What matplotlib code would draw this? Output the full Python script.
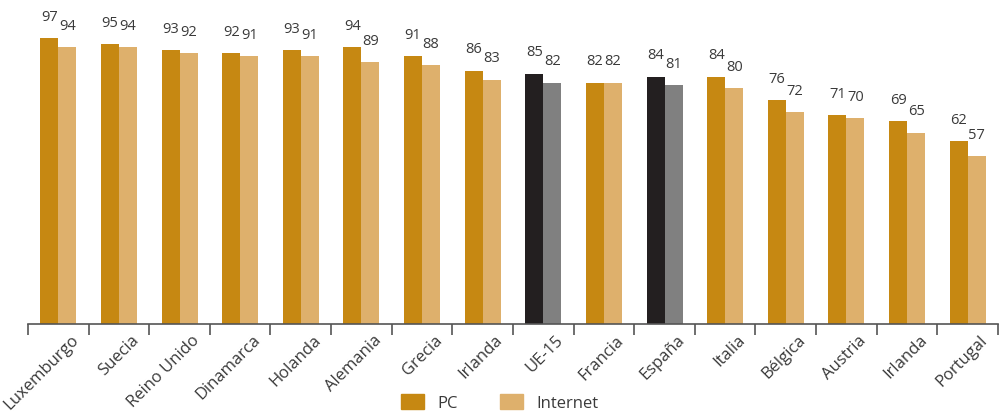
import matplotlib
matplotlib.use("Agg")
import matplotlib.pyplot as plt
import matplotlib.transforms as mtransforms
import numpy as np
from matplotlib.patches import Patch

plt.rcParams["font.family"] = ["Open Sans", "DejaVu Sans"]

countries = ["Luxemburgo", "Suecia", "Reino Unido", "Dinamarca", "Holanda",
             "Alemania", "Grecia", "Irlanda", "UE-15", "Francia", "España",
             "Italia", "Bélgica", "Austria", "Irlanda", "Portugal"]
pc = [97, 95, 93, 92, 93, 94, 91, 86, 85, 82, 84, 84, 76, 71, 69, 62]
internet = [94, 94, 92, 91, 91, 89, 88, 83, 82, 82, 81, 80, 72, 70, 65, 57]
highlight = ["UE-15", "España"]

PC_COLOR = "#C68812"
NET_COLOR = "#DEB06C"
PC_DARK = "#231F20"
NET_DARK = "#808080"
TEXT = "#3a3a3a"

fig = plt.figure(figsize=(9.99, 4.15), dpi=100)
ax = fig.add_axes([0.028, 0.219, 0.971, 0.781])

x = np.arange(len(countries))
w = 0.297
pc_colors = [PC_DARK if c in highlight else PC_COLOR for c in countries]
net_colors = [NET_DARK if c in highlight else NET_COLOR for c in countries]

ax.bar(x - w / 2, pc, width=w, color=pc_colors, linewidth=0)
ax.bar(x + w / 2, internet, width=w, color=net_colors, linewidth=0)

for xi, a, b in zip(x, pc, internet):
    ax.text(xi - w / 2, a + 4.5, str(a), ha="center", va="bottom",
            fontsize=10.5, color=TEXT)
    ax.text(xi + w / 2, b + 4.5, str(b), ha="center", va="bottom",
            fontsize=10.5, color=TEXT)

ax.set_xlim(-0.5, len(countries) - 0.5)
ax.set_ylim(0, 110)

for side in ["top", "right", "left"]:
    ax.spines[side].set_visible(False)
ax.spines["bottom"].set_color("#555555")
ax.spines["bottom"].set_linewidth(1.2)
ax.set_yticks([])

ax.set_xticks(x)
ax.set_xticklabels(countries, rotation=45, ha="right", rotation_mode="anchor",
                   fontsize=12, color=TEXT)
ax.tick_params(axis="x", which="major", length=0, pad=6)
# nudge the rotated labels a little to the right of the group centre
shift = mtransforms.ScaledTranslation(12 / 100, 0, fig.dpi_scale_trans)
for lbl in ax.get_xticklabels():
    lbl.set_transform(lbl.get_transform() + shift)
ax.set_xticks(np.arange(-0.5, len(countries)), minor=True)
ax.tick_params(axis="x", which="minor", length=8, width=1.2, color="#555555")

handles = [Patch(color=PC_COLOR, label="PC"),
           Patch(color=NET_COLOR, label="Internet")]
fig.legend(handles=handles, loc="lower center", bbox_to_anchor=(0.5, -0.028),
           ncol=2, frameon=False, fontsize=12, handlelength=1.4,
           handleheight=1.0, columnspacing=2.5, handletextpad=0.8,
           labelcolor=TEXT)

fig.savefig("out.png", dpi=100)
